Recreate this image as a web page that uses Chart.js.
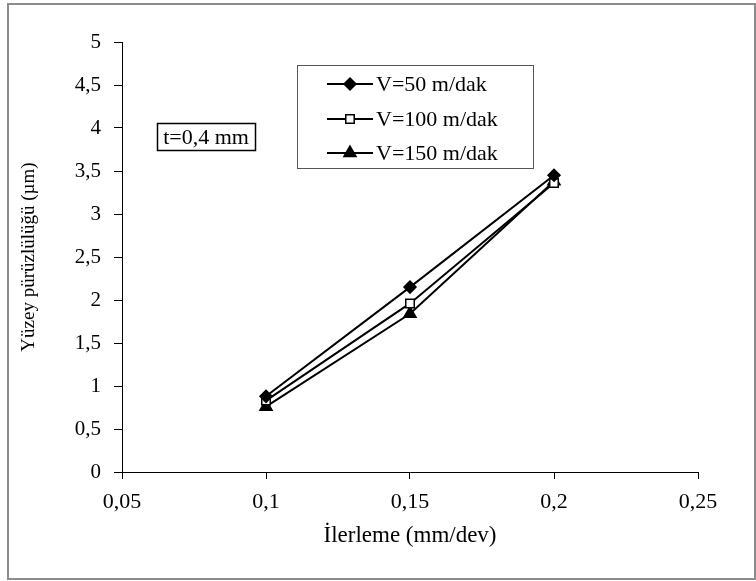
<!DOCTYPE html>
<html>
<head>
<meta charset="utf-8">
<script src="https://cdn.jsdelivr.net/npm/chart.js@4.4.1/dist/chart.umd.min.js"></script>
<style>
  html, body { margin: 0; padding: 0; background: #fff; }
  canvas { display: block; }
</style>
</head>
<body>
<canvas id="chart" width="756" height="581"></canvas>
<script>
// Data
const ilerleme = [0.1, 0.15, 0.2];            // mm/dev
const v50 = [0.88, 2.15, 3.45];               // µm
const v100 = [0.83, 1.96, 3.36];
const v150 = [0.76, 1.84, 3.38];
const seriesLabels = ['V=50 m/dak', 'V=100 m/dak', 'V=150 m/dak'];
const xTickValues = [0.05, 0.1, 0.15, 0.2, 0.25];
const yTickValues = [0, 0.5, 1, 1.5, 2, 2.5, 3, 3.5, 4, 4.5, 5];
const noteText = 't=0,4 mm';

const FONT = "'Liberation Serif', 'Times New Roman', serif";

function toPoints(ys) {
    return ilerleme.map((x, i) => ({ x: x, y: ys[i] }));
}

function commaLabel(v) {
    return String(Math.round(v * 100) / 100).replace('.', ',');
}

const datasets = [
    { label: seriesLabels[0], data: toPoints(v50), pointStyle: 'rectRot', pointRadius: 6, backgroundColor: '#000' },
    { label: seriesLabels[1], data: toPoints(v100), pointStyle: 'rect', pointRadius: 6, backgroundColor: '#fff' },
    { label: seriesLabels[2], data: toPoints(v150), pointStyle: 'triangle', pointRadius: 7, backgroundColor: '#000' }
].map(d => Object.assign({
    showLine: true,
    borderColor: '#000',
    borderWidth: 2,
    pointBorderColor: '#000',
    pointBorderWidth: 1.5,
    pointBackgroundColor: d.backgroundColor
}, d));

// Outer frame, note box and the legend box (legend draws line + marker like the original)
const decorations = {
    id: 'decorations',
    beforeDraw(chart) {
        const ctx = chart.ctx;
        ctx.save();
        ctx.fillStyle = '#fff';
        ctx.fillRect(0, 0, chart.width, chart.height);
        ctx.strokeStyle = '#8c8c8c';
        ctx.lineWidth = 2;
        ctx.strokeRect(8, 4, chart.width - 9, chart.height - 6);
        ctx.restore();
    },
    afterDraw(chart) {
        const ctx = chart.ctx;
        ctx.save();
        ctx.font = '22px ' + FONT;
        ctx.fillStyle = '#000';
        ctx.textBaseline = 'middle';

        // t=0,4 mm note
        ctx.strokeStyle = '#000';
        ctx.lineWidth = 1.5;
        ctx.strokeRect(157.5, 123.5, 98, 27);
        ctx.textAlign = 'center';
        ctx.fillText(noteText, 206, 138);

        // legend
        ctx.strokeStyle = '#555';
        ctx.lineWidth = 1;
        ctx.strokeRect(297.5, 65.5, 236, 103);
        const rowsY = [84, 119, 153];
        ctx.textAlign = 'left';
        chart.data.datasets.forEach((ds, i) => {
            const y = rowsY[i];
            ctx.strokeStyle = '#000';
            ctx.lineWidth = 2;
            ctx.beginPath();
            ctx.moveTo(327, y);
            ctx.lineTo(373, y);
            ctx.stroke();
            ctx.fillStyle = ds.pointBackgroundColor;
            ctx.lineWidth = ds.pointBorderWidth;
            Chart.helpers.drawPoint(ctx, { pointStyle: ds.pointStyle, radius: ds.pointRadius, rotation: 0, borderWidth: ds.pointBorderWidth }, 350, y);
            ctx.fillStyle = '#000';
            ctx.fillText(ds.label, 376, y + 1);
        });
        ctx.restore();
    }
};

new Chart(document.getElementById('chart'), {
    type: 'scatter',
    data: { datasets: datasets },
    options: {
        responsive: false,
        animation: false,
        layout: { padding: { left: 8, right: 58, top: 42, bottom: 31 } },
        plugins: {
            legend: { display: false },
            tooltip: { enabled: false }
        },
        scales: {
            x: {
                type: 'linear',
                min: 0.05,
                max: 0.25,
                afterBuildTicks: s => { s.ticks = xTickValues.map(v => ({ value: v })); },
                afterFit: s => { s.height = 78; },
                grid: { drawOnChartArea: false, drawTicks: true, tickLength: 7, color: '#000' },
                border: { display: true, color: '#000', width: 1 },
                ticks: {
                    color: '#000',
                    padding: 10,
                    maxRotation: 0,
                    font: { family: FONT, size: 22 },
                    callback: v => commaLabel(v)
                },
                title: {
                    display: true,
                    text: 'İlerleme (mm/dev)',
                    color: '#000',
                    padding: 0,
                    font: { family: FONT, size: 23 }
                }
            },
            y: {
                type: 'linear',
                min: 0,
                max: 5,
                afterBuildTicks: s => { s.ticks = yTickValues.map(v => ({ value: v })); },
                afterFit: s => { s.width = 114; },
                grid: { drawOnChartArea: false, drawTicks: true, tickLength: 8, color: '#000' },
                border: { display: true, color: '#000', width: 1 },
                ticks: {
                    color: '#000',
                    padding: 13,
                    font: { family: FONT, size: 21 },
                    callback: v => commaLabel(v)
                },
                title: {
                    display: true,
                    text: 'Yüzey pürüzlülüğü (µm)',
                    color: '#000',
                    padding: { top: 10, bottom: 0 },
                    font: { family: FONT, size: 19 }
                }
            }
        }
    },
    plugins: [decorations]
});
</script>
</body>
</html>
